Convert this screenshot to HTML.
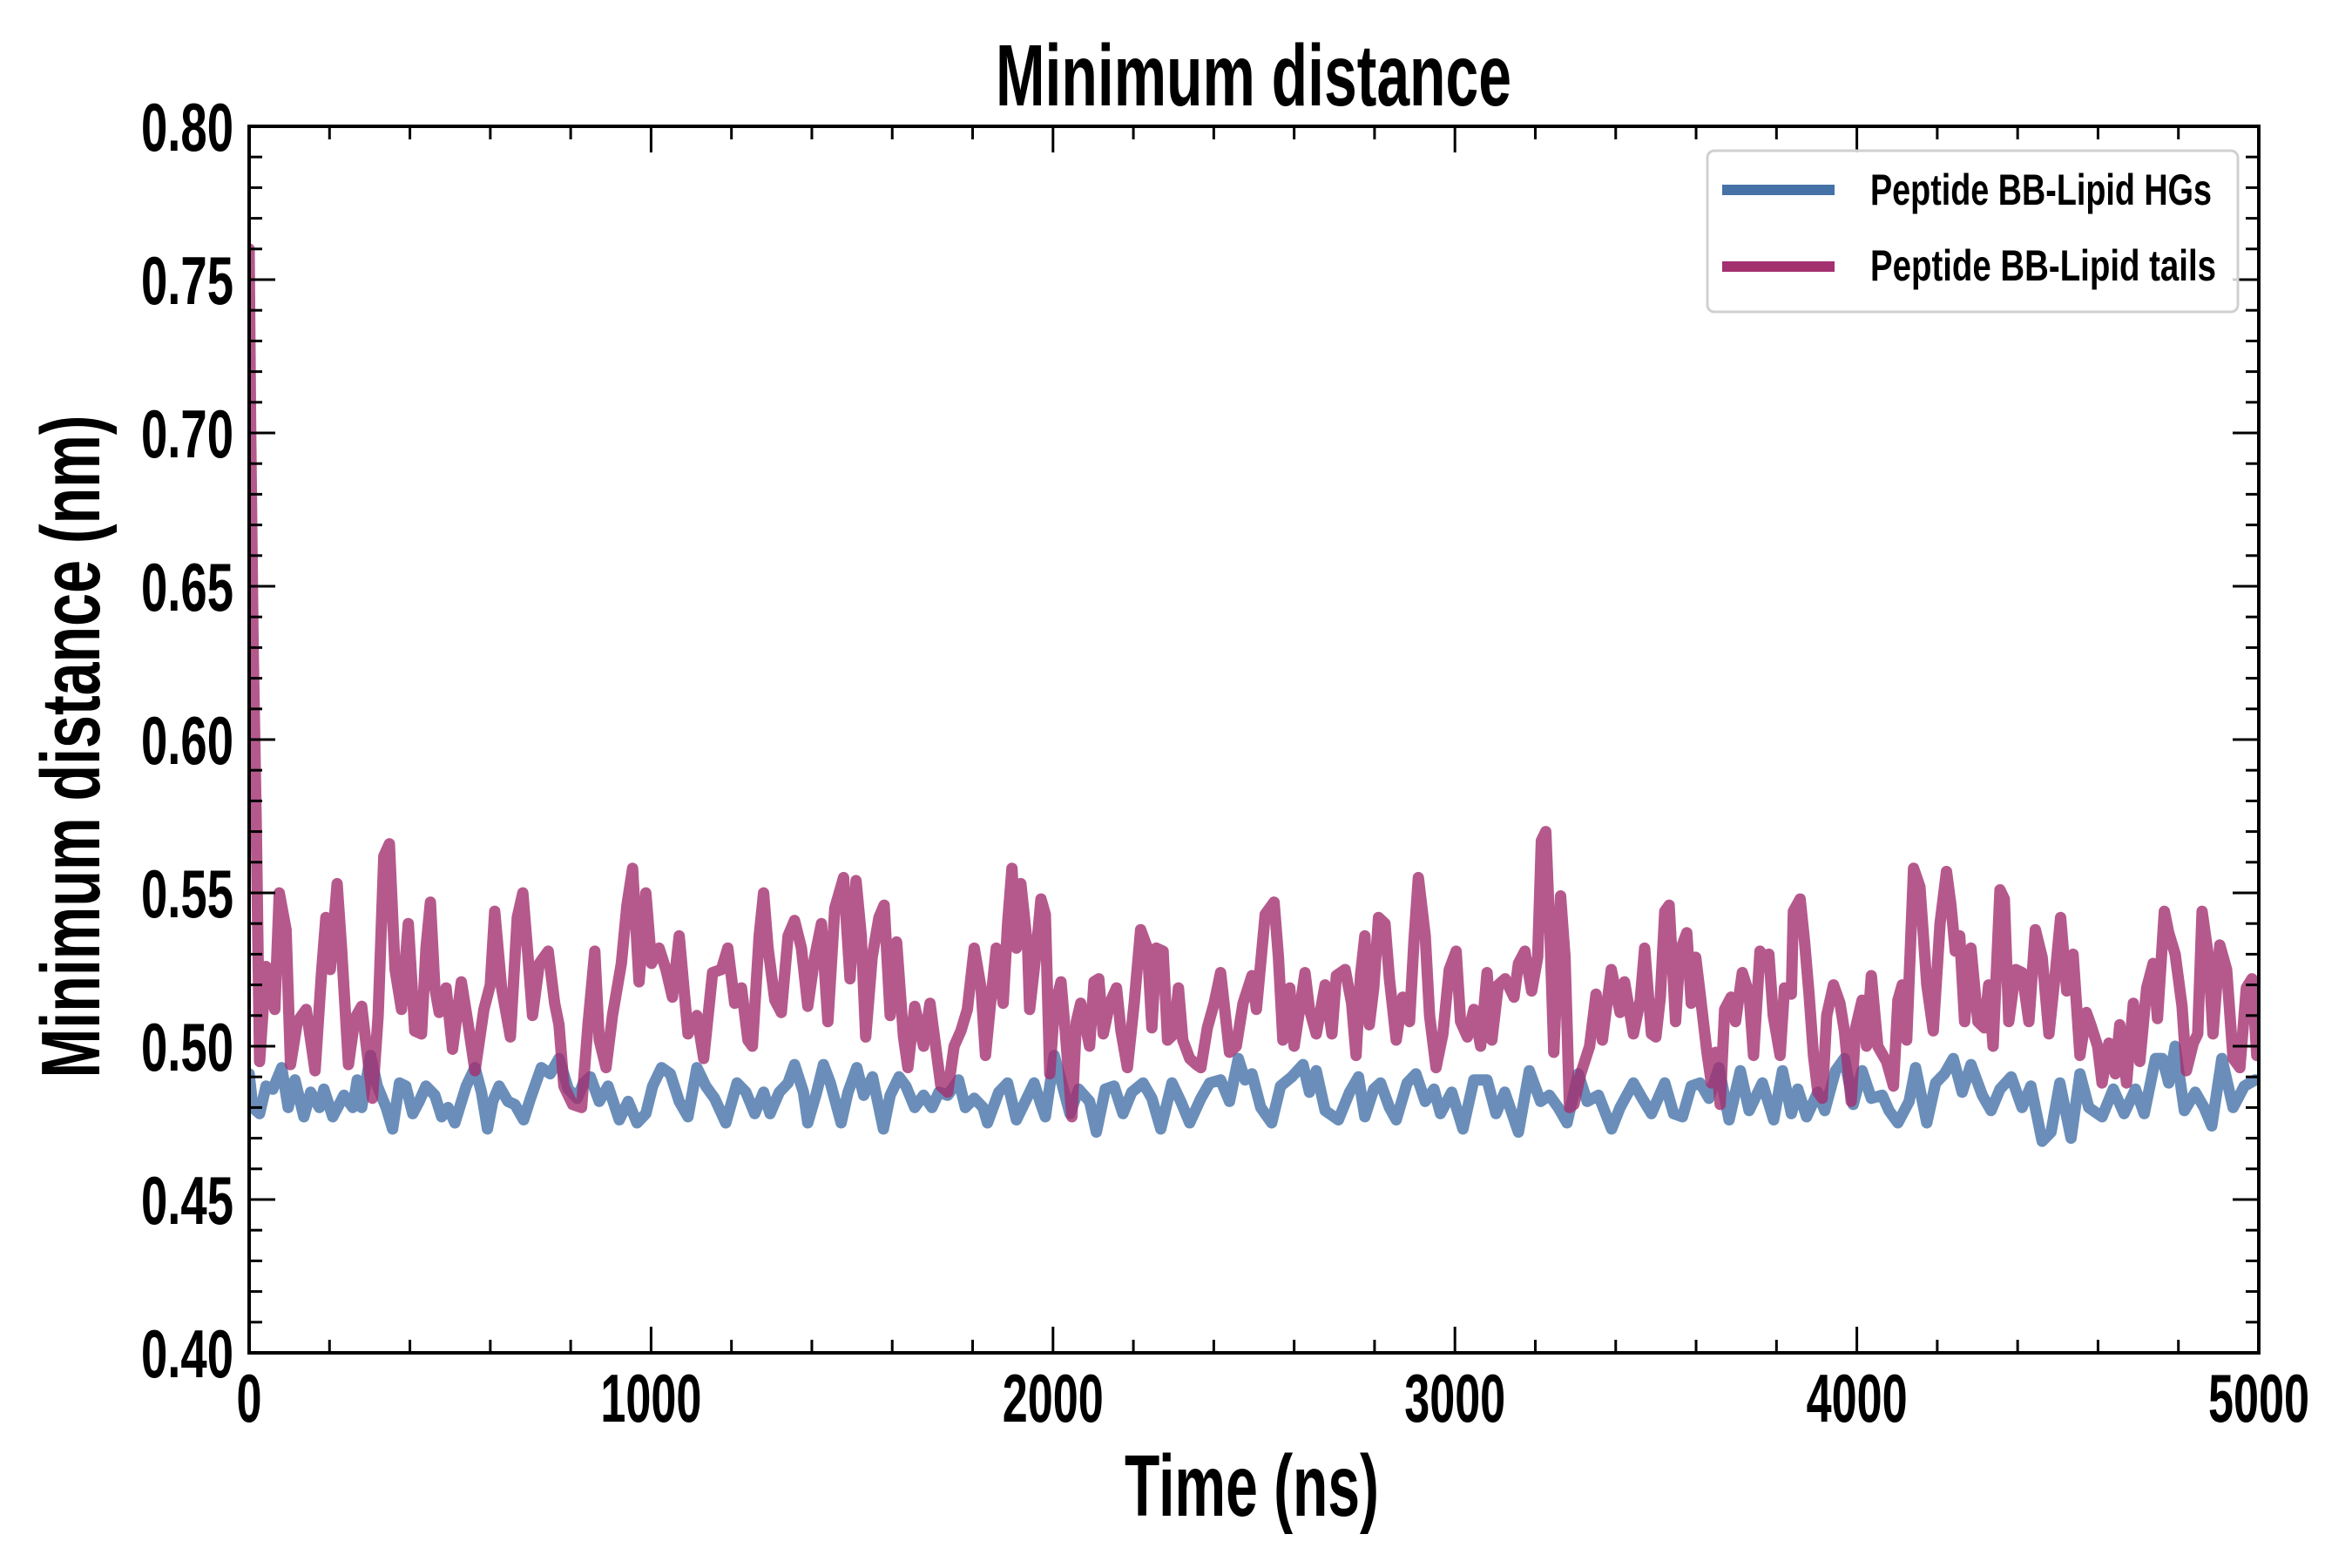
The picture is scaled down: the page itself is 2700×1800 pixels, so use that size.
<!DOCTYPE html>
<html><head><meta charset="utf-8"><style>
html,body{margin:0;padding:0;background:#fff;}
svg{display:block;}
text{font-family:"Liberation Sans Narrow","Liberation Sans",sans-serif;font-weight:bold;fill:#000;}
</style></head><body>
<svg id="chart" width="2700" height="1800" viewBox="0 0 2700 1800" xmlns="http://www.w3.org/2000/svg">
<rect x="0" y="0" width="2700" height="1800" fill="#fff"/>
<g id="series"></g>
<g id="axes"></g>
<text x="1439" y="121" font-size="100" text-anchor="middle" textLength="592" lengthAdjust="spacingAndGlyphs">Minimum distance</text>
<text x="1437" y="1740" font-size="100" text-anchor="middle" textLength="292" lengthAdjust="spacingAndGlyphs">Time (ns)</text>
<text x="0" y="0" font-size="96" text-anchor="middle" textLength="761" lengthAdjust="spacingAndGlyphs" transform="translate(114,857) rotate(-90)">Minimum distance (nm)</text>
<g>
<rect x="1960" y="173" width="609" height="185" rx="8" ry="8" fill="#fff" fill-opacity="0.8" stroke="#d0d0d0" stroke-width="3"/>
<line x1="1977" y1="218" x2="2106" y2="218" stroke="#4572a7" stroke-width="12"/>
<text x="2147" y="235" font-size="50" textLength="392" lengthAdjust="spacingAndGlyphs">Peptide BB-Lipid HGs</text>
<line x1="1977" y1="306" x2="2106" y2="306" stroke="#a3306f" stroke-width="12"/>
<text x="2147" y="322" font-size="50" textLength="397" lengthAdjust="spacingAndGlyphs">Peptide BB-Lipid tails</text>
</g>
</svg>
<script>
const xTicks=[0,1000,2000,3000,4000,5000];
const xTickLabels=["0","1000","2000","3000","4000","5000"];
const yTicks=[0.40,0.45,0.50,0.55,0.60,0.65,0.70,0.75,0.80];
const yTickLabels=["0.40","0.45","0.50","0.55","0.60","0.65","0.70","0.75","0.80"];
const tailsT=[0,4,10,18,26,42,64,75,92,103,120,142,164,180,191,202,219,230,247,263,280,307,321,335,349,363,379,396,412,429,440,451,462,473,490,506,528,545,562,584,600,611,628,650,667,681,694,705,722,744,760,771,783,805,827,843,860,871,888,904,926,940,954,970,987,1001,1020,1037,1053,1070,1092,1114,1131,1153,1175,1191,1208,1225,1241,1252,1269,1280,1291,1308,1324,1341,1357,1374,1390,1407,1424,1440,1457,1479,1495,1510,1523,1534,1550,1567,1580,1595,1611,1628,1639,1656,1678,1694,1721,1738,1754,1771,1787,1804,1821,1832,1843,1859,1876,1887,1898,1909,1920,1937,1942,1959,1970,1981,1992,2003,2020,2031,2047,2058,2069,2091,2102,2114,2125,2141,2158,2169,2185,2202,2218,2235,2246,2257,2274,2285,2301,2312,2323,2340,2357,2368,2384,2401,2417,2439,2456,2473,2495,2506,2528,2550,2561,2572,2589,2600,2616,2627,2638,2655,2677,2694,2705,2727,2743,2754,2765,2776,2787,2798,2810,2826,2837,2854,2870,2887,2898,2909,2926,2937,2953,2970,2986,3003,3014,3031,3047,3064,3080,3092,3108,3125,3147,3158,3174,3191,3206,3215,3226,3237,3246,3263,3274,3285,3296,3313,3335,3351,3367,3389,3411,3422,3444,3461,3472,3489,3500,3511,3522,3533,3549,3560,3577,3588,3599,3610,3627,3638,3649,3660,3671,3687,3698,3715,3732,3743,3759,3770,3781,3792,3809,3820,3837,3842,3859,3870,3881,3892,3903,3914,3925,3942,3958,3969,3986,3997,4013,4024,4036,4052,4074,4091,4102,4113,4124,4141,4157,4174,4190,4207,4223,4234,4245,4256,4268,4284,4301,4317,4328,4339,4356,4367,4378,4395,4411,4428,4444,4461,4478,4494,4507,4522,4538,4555,4571,4582,4599,4610,4627,4643,4654,4671,4688,4704,4721,4737,4748,4765,4776,4792,4809,4820,4837,4848,4859,4875,4886,4903,4920,4936,4953,4969,4983,4995];
const tailsV=[.760,.70,.63,.57,.495,.526,.512,.550,.538,.494,.508,.512,.492,.524,.542,.525,.553,.532,.494,.509,.513,.483,.510,.562,.566,.525,.512,.540,.505,.504,.532,.547,.519,.511,.519,.499,.521,.507,.492,.512,.520,.544,.519,.503,.542,.550,.529,.510,.527,.531,.514,.507,.487,.481,.480,.507,.531,.502,.493,.510,.527,.546,.558,.521,.550,.527,.532,.525,.516,.536,.504,.510,.496,.524,.525,.532,.514,.519,.502,.500,.536,.550,.532,.515,.511,.536,.541,.532,.513,.529,.540,.508,.545,.555,.522,.554,.536,.503,.529,.542,.546,.510,.534,.503,.493,.513,.500,.514,.487,.485,.500,.505,.512,.532,.519,.497,.512,.532,.514,.540,.558,.532,.553,.532,.512,.532,.548,.543,.491,.512,.521,.504,.477,.508,.514,.500,.521,.522,.504,.514,.519,.505,.493,.514,.538,.532,.506,.532,.531,.502,.504,.519,.502,.496,.494,.493,.506,.514,.524,.498,.500,.514,.523,.512,.543,.547,.529,.502,.519,.500,.514,.524,.512,.504,.520,.504,.523,.525,.514,.497,.523,.536,.507,.519,.542,.540,.522,.502,.516,.508,.534,.555,.536,.510,.493,.504,.525,.531,.508,.503,.512,.500,.524,.502,.520,.522,.516,.527,.531,.518,.529,.567,.570,.534,.498,.549,.529,.480,.481,.491,.500,.517,.502,.525,.511,.521,.504,.515,.532,.504,.503,.516,.544,.546,.508,.531,.537,.514,.529,.517,.498,.488,.498,.481,.512,.516,.508,.524,.517,.497,.531,.529,.530,.510,.497,.519,.517,.544,.548,.534,.517,.497,.485,.483,.510,.520,.514,.505,.482,.506,.515,.500,.523,.500,.495,.487,.515,.520,.502,.558,.552,.520,.505,.540,.557,.546,.531,.536,.508,.532,.508,.506,.520,.500,.551,.548,.508,.525,.524,.508,.538,.529,.504,.524,.542,.518,.530,.497,.511,.507,.500,.488,.501,.491,.507,.488,.514,.495,.519,.527,.509,.544,.537,.530,.513,.492,.501,.504,.544,.529,.504,.533,.525,.496,.493,.519,.522,.497];
const hgsT=[0,9,26,42,59,81,97,114,136,153,175,186,208,236,258,269,280,302,319,341,357,374,390,407,423,440,462,479,495,512,540,562,578,593,606,622,644,661,683,700,727,749,771,794,816,832,849,871,893,921,943,965,987,1004,1026,1048,1070,1092,1114,1136,1158,1186,1214,1236,1258,1280,1296,1319,1341,1357,1379,1390,1412,1429,1446,1473,1490,1512,1529,1551,1578,1595,1617,1634,1656,1678,1699,1716,1738,1765,1782,1804,1826,1837,1865,1887,1909,1931,1953,1970,1981,2003,2020,2042,2064,2091,2108,2130,2152,2174,2196,2224,2246,2268,2296,2318,2340,2368,2390,2417,2439,2461,2478,2495,2517,2544,2566,2594,2622,2638,2655,2677,2710,2738,2760,2776,2798,2815,2837,2854,2881,2903,2926,2948,2964,2992,3020,3047,3080,3102,3124,3158,3185,3213,3235,3257,3279,3307,3329,3357,3390,3411,3444,3466,3489,3522,3544,3566,3588,3610,3632,3657,3682,3710,3732,3765,3793,3815,3837,3853,3875,3903,3920,3947,3969,3991,4013,4036,4063,4080,4102,4130,4146,4174,4196,4218,4240,4262,4284,4312,4334,4356,4384,4411,4433,4461,4483,4505,4533,4555,4577,4610,4638,4665,4693,4715,4743,4760,4776,4792,4815,4842,4864,4883,4908,4936,4964,4991];
const hgsV=[.491,.480,.478,.487,.486,.493,.480,.489,.477,.485,.480,.486,.477,.484,.480,.489,.480,.497,.487,.480,.473,.488,.487,.478,.482,.487,.484,.477,.480,.475,.487,.493,.485,.473,.482,.487,.482,.481,.476,.483,.493,.491,.496,.486,.483,.488,.490,.482,.487,.476,.482,.475,.478,.487,.493,.491,.482,.477,.493,.487,.483,.475,.488,.485,.478,.485,.478,.485,.488,.494,.485,.475,.485,.494,.488,.475,.485,.493,.484,.490,.473,.484,.490,.487,.480,.484,.480,.485,.484,.489,.480,.483,.480,.475,.485,.488,.476,.482,.488,.481,.477,.497,.489,.478,.486,.482,.472,.486,.487,.478,.485,.488,.483,.473,.488,.482,.475,.483,.488,.489,.482,.496,.489,.491,.480,.475,.487,.490,.494,.485,.492,.479,.476,.485,.490,.477,.486,.488,.480,.476,.488,.491,.482,.486,.478,.485,.473,.489,.489,.478,.485,.472,.492,.482,.484,.480,.475,.491,.482,.484,.473,.480,.488,.483,.478,.488,.478,.477,.487,.488,.483,.493,.476,.492,.479,.488,.476,.492,.478,.486,.477,.485,.479,.492,.496,.481,.492,.483,.484,.479,.475,.482,.493,.475,.488,.491,.496,.485,.494,.484,.479,.486,.490,.480,.487,.469,.472,.488,.470,.491,.480,.477,.486,.478,.486,.478,.496,.496,.488,.500,.479,.485,.480,.474,.496,.480,.487,.489];

const NS="http://www.w3.org/2000/svg";
const X0=286,X1=2593,Y0=1553,Y1=145;
const XMIN=0,XMAX=5000,YMIN=0.40,YMAX=0.80;
function xs(t){return X0+(t-XMIN)/(XMAX-XMIN)*(X1-X0);}
function ys(v){return Y0-(v-YMIN)/(YMAX-YMIN)*(Y0-Y1);}
const series=document.getElementById('series');
const axes=document.getElementById('axes');

const clip=document.createElementNS(NS,'clipPath');clip.setAttribute('id','plotclip');
const cr=document.createElementNS(NS,'rect');
cr.setAttribute('x',X0);cr.setAttribute('y',Y1);cr.setAttribute('width',X1-X0);cr.setAttribute('height',Y0-Y1);
clip.appendChild(cr);document.getElementById('chart').appendChild(clip);
series.setAttribute('clip-path','url(#plotclip)');

function drawLine(T,V,color,name){
  let d='';
  for(let i=0;i<T.length;i++){d+=(i?'L':'M')+xs(T[i]).toFixed(1)+','+ys(V[i]).toFixed(1);}
  const p=document.createElementNS(NS,'path');
  p.setAttribute('d',d);p.setAttribute('fill','none');p.setAttribute('stroke',color);
  p.setAttribute('stroke-opacity','0.8');p.setAttribute('stroke-width','13');
  p.setAttribute('stroke-linejoin','round');p.setAttribute('stroke-linecap','round');
  
  
  series.appendChild(p);
}
drawLine(hgsT,hgsV,'#4572a7','line-lipid-hgs');
drawLine(tailsT,tailsV,'#a3306f','line-lipid-tails');

function ln(x1,y1,x2,y2,w){
  const l=document.createElementNS(NS,'line');
  l.setAttribute('x1',x1);l.setAttribute('y1',y1);l.setAttribute('x2',x2);l.setAttribute('y2',y2);
  l.setAttribute('stroke','#000');l.setAttribute('stroke-width',w);
  axes.appendChild(l);return l;
}
for(let t=0;t<=XMAX;t+=200){
  const major=(t%1000===0);const L=major?30:15;const x=xs(t);
  const a=ln(x,Y0,x,Y0-L,3);
  
  
  const b=ln(x,Y1,x,Y1+L,3);
  
  
}
for(let k=0;k<=40;k++){
  const v=YMIN+k*0.01;const major=(k%5===0);const L=major?30:15;const y=ys(v);
  const a=ln(X0,y,X0+L,y,3);
  
  
  const b=ln(X1,y,X1-L,y,3);
  
  
}
const frame=document.createElementNS(NS,'rect');
frame.setAttribute('x',X0);frame.setAttribute('y',Y1);frame.setAttribute('width',X1-X0);frame.setAttribute('height',Y0-Y1);
frame.setAttribute('fill','none');frame.setAttribute('stroke','#000');frame.setAttribute('stroke-width','4');


axes.appendChild(frame);

for(let i=0;i<xTicks.length;i++){
  const tx=document.createElementNS(NS,'text');
  tx.setAttribute('x',xs(xTicks[i]));tx.setAttribute('y',1632);
  tx.setAttribute('font-size','78');tx.setAttribute('text-anchor','middle');
  tx.setAttribute('textLength',xTickLabels[i].length*29);tx.setAttribute('lengthAdjust','spacingAndGlyphs');
  tx.textContent=xTickLabels[i];
  
  
  axes.appendChild(tx);
}
for(let i=0;i<yTicks.length;i++){
  const tx=document.createElementNS(NS,'text');
  tx.setAttribute('x',268);tx.setAttribute('y',ys(yTicks[i])+28);
  tx.setAttribute('font-size','78');tx.setAttribute('text-anchor','end');
  tx.setAttribute('textLength',106);tx.setAttribute('lengthAdjust','spacingAndGlyphs');
  tx.textContent=yTickLabels[i];
  
  
  axes.appendChild(tx);
}
</script>
</body></html>
